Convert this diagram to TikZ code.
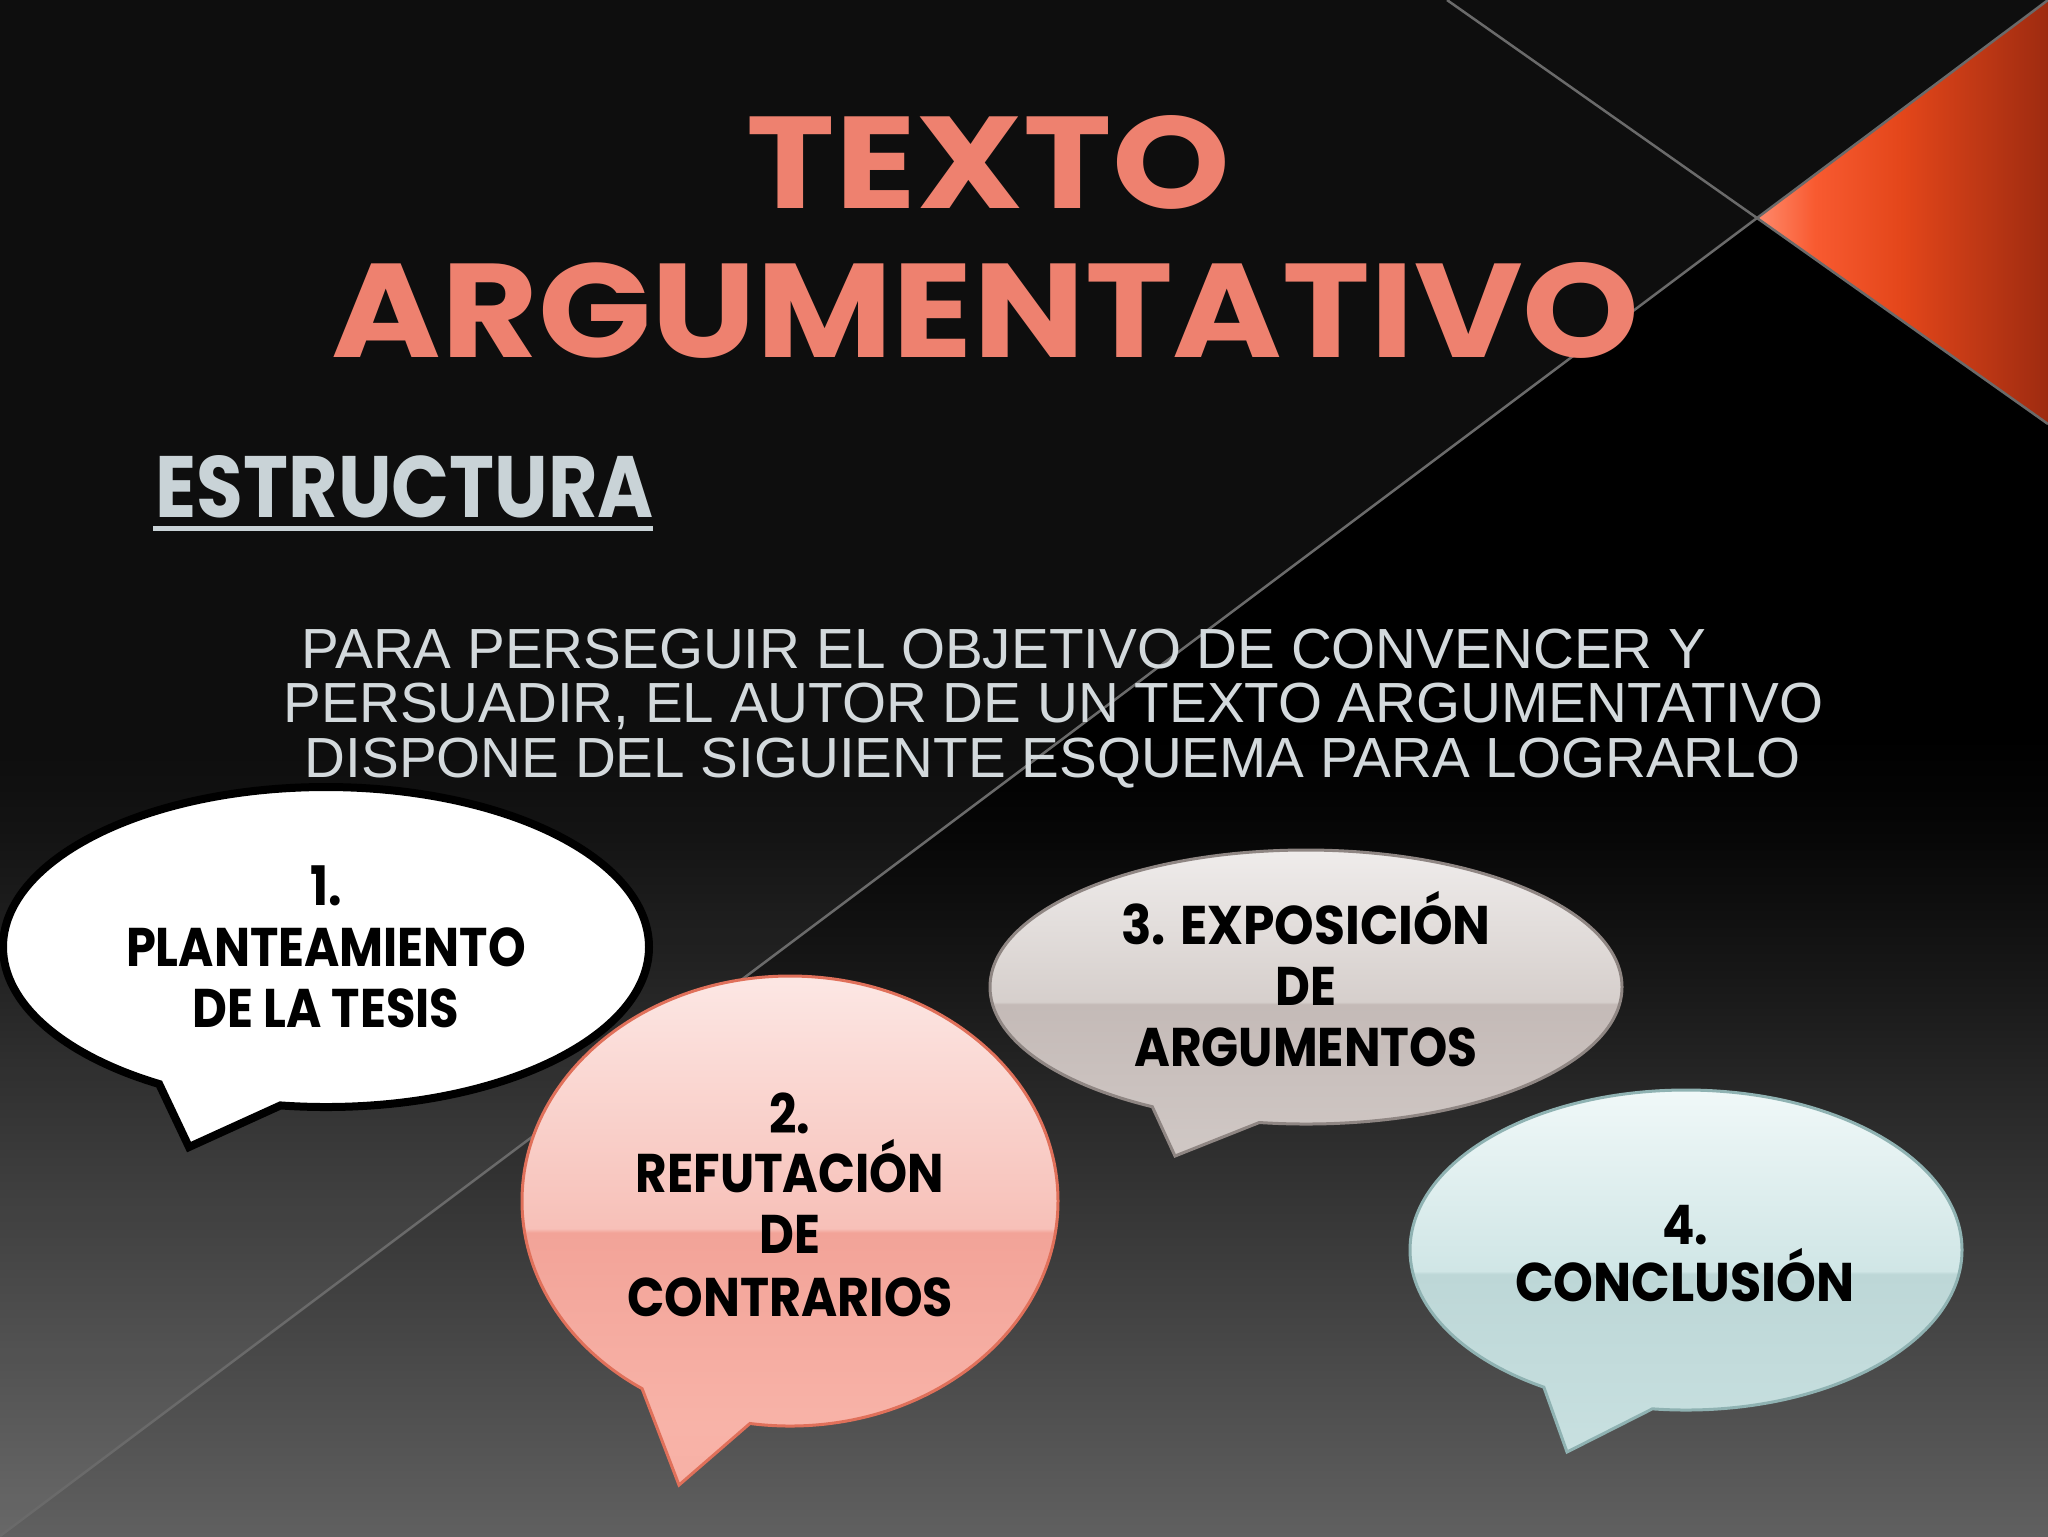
\documentclass[tikz,border=0pt]{standalone}
\usepackage{fontspec}
\usepackage{graphicx}
\setmainfont{Liberation Sans}
\newfontfamily\bubfont{Poppins}
\newfontfamily\titfont{Poppins}
\usetikzlibrary{calc}
\definecolor{bg0}{HTML}{606060}
\definecolor{bg1}{HTML}{424242}
\definecolor{bg2}{HTML}{292929}
\definecolor{bg3}{HTML}{181818}
\definecolor{bg4}{HTML}{060606}
\definecolor{salmon}{HTML}{EE816F}
\definecolor{paratext}{HTML}{D3D9DC}
\definecolor{estr}{HTML}{C9D3D7}
\definecolor{diag}{HTML}{6A6A6A}
\definecolor{or0}{HTML}{FF8A6C}
\definecolor{or1}{HTML}{F85A30}
\definecolor{or2}{HTML}{E3461A}
\definecolor{or3}{HTML}{9E2B10}
\definecolor{pa}{HTML}{F7B0A5}
\definecolor{pb}{HTML}{F8B3A8}
\definecolor{pc}{HTML}{F2A398}
\definecolor{pd}{HTML}{F7C0B8}
\definecolor{pe}{HTML}{FCE7E4}
\definecolor{pborder}{HTML}{E0705A}
\definecolor{ga}{HTML}{D0C8C5}
\definecolor{gc}{HTML}{C4BAB7}
\definecolor{gd}{HTML}{D6CFCC}
\definecolor{ge}{HTML}{EFECEB}
\definecolor{gborder}{HTML}{8F8683}
\definecolor{ca}{HTML}{C8E0E0}
\definecolor{cc}{HTML}{BDD7D7}
\definecolor{cd}{HTML}{D0E6E6}
\definecolor{ce}{HTML}{F0F8F8}
\definecolor{cborder}{HTML}{8FB2B2}
\pgfdeclareverticalshading{bgshade}{100bp}{color(0bp)=(bg0); color(25bp)=(bg0); color(32.5bp)=(bg1); color(39bp)=(bg2); color(43bp)=(bg3); color(48bp)=(bg4); color(51bp)=(black); color(100bp)=(black)}
\pgfdeclarehorizontalshading{orshade}{100bp}{color(0bp)=(or0); color(25bp)=(or0); color(35bp)=(or1); color(50bp)=(or2); color(75bp)=(or3); color(100bp)=(or3)}
\pgfdeclareverticalshading{pinkshade}{100bp}{color(0bp)=(pa); color(25bp)=(pa); color(30.8bp)=(pb); color(49.8bp)=(pc); color(50.2bp)=(pd); color(75bp)=(pe); color(100bp)=(pe)}
\pgfdeclareverticalshading{greyshade}{100bp}{color(0bp)=(ga); color(25bp)=(ga); color(49.8bp)=(gc); color(50.2bp)=(gd); color(75bp)=(ge); color(100bp)=(ge)}
\pgfdeclareverticalshading{cyanshade}{100bp}{color(0bp)=(ca); color(25bp)=(ca); color(49.6bp)=(cc); color(50bp)=(cd); color(75bp)=(ce); color(100bp)=(ce)}
\newcommand{\bt}[2][0.88]{\scalebox{#1}[1]{#2}}
% bubble outline: #1 cx, #2 cy, #3 rx, #4 ry, #5 start angle (left base), #6 end angle (right base, < 90), #7 tip
\newcommand{\bubblepath}[7]{([shift={(#5:#3 and #4)}]#1,#2)
  arc[start angle=#5, end angle=180, x radius=#3, y radius=#4]
  arc[start angle=180, end angle=270, x radius=#3, y radius=#4]
  arc[start angle=270, end angle=360, x radius=#3, y radius=#4]
  arc[start angle=0, end angle=90, x radius=#3, y radius=#4]
  arc[start angle=90, end angle=#6, x radius=#3, y radius=#4] -- #7 -- cycle}
\tikzset{
  bubtext/.style={font=\bubfont\bfseries\fontsize{15.5pt}{18pt}\selectfont, inner sep=0pt, anchor=base, text=black},
  paraline/.style={font=\fontsize{16.1pt}{19pt}\selectfont, inner sep=0pt, anchor=base west, text=paratext},
  diagline/.style={draw=diag, line width=0.25mm},
}
\begin{document}
\begin{tikzpicture}[x=0.1mm,y=-0.1mm]
\useasboundingbox (0,0) rectangle (2048,1536);
% background
\shade[shading=bgshade] (0,0) rectangle (2048,1536);
\fill[white, opacity=0.055] (0,0) -- (2048,0) -- (0,1536) -- cycle;
% orange triangle
\coordinate (cross) at (1757,218);
\coordinate (tr) at (2048,0);
\coordinate (rr) at (2048,424);
\coordinate (l1s) at (1447,0);
\coordinate (l2e) at (0,1536);
\shade[shading=orshade] (cross) -- (tr) -- (rr) -- cycle;
\draw[diagline] (l1s) -- (cross) -- (rr);
\draw[diagline] (tr) -- (cross) -- (l2e);
% title
\node[anchor=north west, inner sep=0pt, text=salmon] (t1) at (746,115) {\resizebox{48.3mm}{9.3mm}{\titfont\bfseries TEXTO}};
\node[anchor=north west, inner sep=0pt, text=salmon] (t2) at (331,262) {\resizebox{130.8mm}{9.5mm}{\titfont\bfseries ARGUMENTATIVO}};
\node[anchor=north west, inner sep=0pt, text=estr] (es) at (155,455) {\resizebox{49.8mm}{6.2mm}{\titfont\bfseries ESTRUCTURA}};
\fill[estr] (153,526) rectangle (653,531);
% paragraph
\node[paraline] (p1) at (301,668) {PARA PERSEGUIR EL OBJETIVO DE CONVENCER Y};
\node[paraline] (p2) at (283,722) {PERSUADIR, EL AUTOR DE UN TEXTO ARGUMENTATIVO};
\node[paraline] (p3) at (304,777) {DISPONE DEL SIGUIENTE ESQUEMA PARA LOGRARLO};
% bubble 1
\path[fill=white, draw=black, line width=0.8mm, line join=miter]
  \bubblepath{326}{947}{323}{160}{121.1}{98.1}{(189,1147)};
\node[bubtext] (b1a) at (326,905) {\bt{1.}};
\node[bubtext] (b1b) at (326,966) {\bt{PLANTEAMIENTO}};
\node[bubtext] (b1c) at (326,1027) {\bt{DE LA TESIS}};
% bubble 2
\path[shading=pinkshade, draw=pborder, line width=0.3mm]
  \bubblepath{790}{1201}{268}{225}{123.5}{98.6}{(679,1485)};
\node[bubtext] (b2a) at (790,1133) {\bt{2.}};
\node[bubtext] (b2b) at (790,1192) {\bt[0.89]{REFUTACIÓN}};
\node[bubtext] (b2c) at (790,1253) {\bt{DE}};
\node[bubtext] (b2d) at (790,1316) {\bt[0.902]{CONTRARIOS}};
% bubble 3
\path[shading=greyshade, draw=gborder, line width=0.3mm]
  \bubblepath{1306}{987}{316}{137}{119.1}{98.5}{(1175,1156)};
\node[bubtext] (b3a) at (1306,944) {\bt[0.924]{3. EXPOSICIÓN}};
\node[bubtext] (b3b) at (1306,1005) {\bt{DE}};
\node[bubtext] (b3c) at (1306,1066) {\bt[0.894]{ARGUMENTOS}};
% bubble 4
\path[shading=cyanshade, draw=cborder, line width=0.3mm]
  \bubblepath{1686}{1250}{276}{160}{121.0}{97.0}{(1567,1452)};
\node[bubtext] (b4a) at (1685,1244) {\bt{4.}};
\node[bubtext] (b4b) at (1685,1301) {\bt[0.931]{CONCLUSIÓN}};
\end{tikzpicture}
\end{document}
